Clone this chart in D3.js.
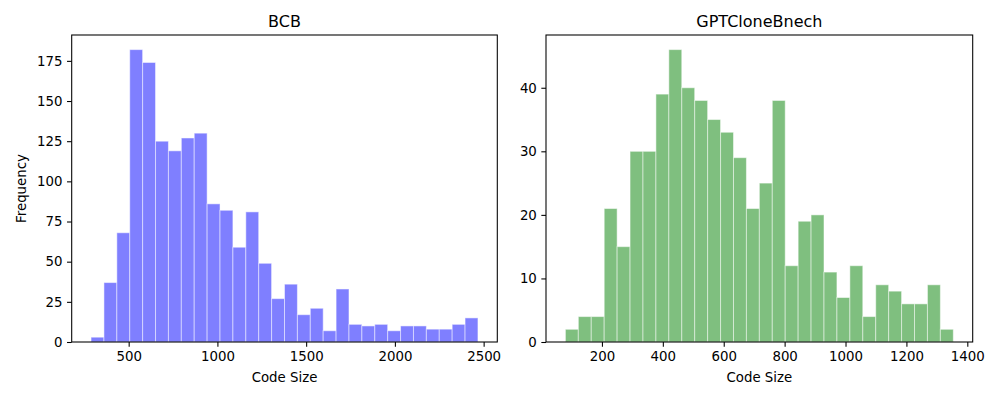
<!DOCTYPE html>
<html><head><meta charset="utf-8">
<script src="https://cdn.jsdelivr.net/npm/d3@7"></script>
<style>body{margin:0;background:#fff}svg{display:block}text{font-family:"DejaVu Sans",sans-serif;fill:#000}</style>
</head><body>
<svg id="c" width="1000" height="400"></svg>
<script>
// BCB histogram (30 bins)
const bcbRange = [288, 2468];
const bcbCounts = [3,37,68,182,174,125,119,127,130,86,82,59,81,49,27,36,17,21,7,33,11,10,11,7,10,10,8,8,11,15];
const bcbXTicks = [500,1000,1500,2000,2500];
const bcbYTicks = [0,25,50,75,100,125,150,175];
// GPTCloneBnech histogram (30 bins)
const gptRange = [80, 1354];
const gptCounts = [2,4,4,21,15,30,30,39,46,40,38,35,33,29,21,25,38,12,19,20,11,7,12,4,9,8,6,6,9,2];
const gptXTicks = [200,400,600,800,1000,1200,1400];
const gptYTicks = [0,10,20,30,40];
const titles = ["BCB","GPTCloneBnech"];
const xLabel = "Code Size";
const yLabel = "Frequency";

const svg = d3.select("#c");
const H = {top:35, bottom:342};

function panel(left, right, range, counts, xt, yt, color, title, showY){
  const n = counts.length;
  const w = (range[1]-range[0])/n;
  const bins = counts.map((c,i)=>({x0:range[0]+i*w, x1:range[0]+(i+1)*w, c}));
  const span = range[1]-range[0];
  const x = d3.scaleLinear().domain([range[0]-0.05*span, range[1]+0.05*span]).range([left,right]);
  const ymax = d3.max(counts)*1.05;
  const y = d3.scaleLinear().domain([0,ymax]).range([H.bottom,H.top]);
  const g = svg.append("g");
  g.selectAll("rect.b").data(bins).join("rect")
    .attr("x",d=>x(d.x0)).attr("width",d=>x(d.x1)-x(d.x0))
    .attr("y",d=>y(d.c)).attr("height",d=>y(0)-y(d.c))
    .attr("fill",color).attr("fill-opacity",0.5)
    .attr("stroke","white").attr("stroke-opacity",0.5).attr("stroke-width",1);
  const xa = g.append("g").attr("transform",`translate(0,${H.bottom})`)
    .call(d3.axisBottom(x).tickValues(xt).tickSize(4.67).tickPadding(4.5).tickFormat(d3.format("d")));
  const ya = g.append("g").attr("transform",`translate(${left},0)`)
    .call(d3.axisLeft(y).tickValues(yt).tickSize(4.67).tickPadding(4.5).tickFormat(d3.format("d")));
  [xa,ya].forEach(a=>{
    a.select(".domain").remove();
    a.selectAll("line").attr("stroke","#000").attr("stroke-width",1.07);
    a.selectAll("text").attr("font-size","13.33px").attr("font-family","DejaVu Sans").attr("fill","#000");
  });
  g.append("rect").attr("x",left).attr("y",H.top).attr("width",right-left).attr("height",H.bottom-H.top)
    .attr("fill","none").attr("stroke","#000").attr("stroke-width",1.07);
  g.append("text").attr("x",(left+right)/2).attr("y",27).attr("text-anchor","middle")
    .attr("font-size","16px").text(title);
  g.append("text").attr("x",(left+right)/2).attr("y",382).attr("text-anchor","middle")
    .attr("font-size","13.33px").text(xLabel);
  if(showY){
    g.append("text").attr("transform",`translate(26,${(H.top+H.bottom)/2}) rotate(-90)`)
      .attr("text-anchor","middle").attr("font-size","13.33px").text(yLabel);
  }
}
panel(71.7, 497.3, bcbRange, bcbCounts, bcbXTicks, bcbYTicks, "blue", titles[0], true);
panel(546, 972.7, gptRange, gptCounts, gptXTicks, gptYTicks, "green", titles[1], false);
</script>
</body></html>
